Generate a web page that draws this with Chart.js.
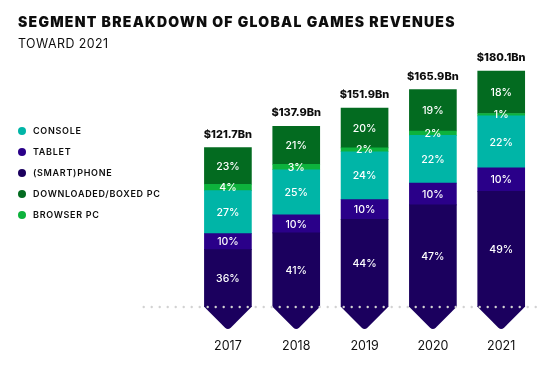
<!DOCTYPE html>
<html>
<head>
<meta charset="utf-8">
<script src="https://cdn.jsdelivr.net/npm/chart.js@4"></script>
<style>
  html, body { margin: 0; padding: 0; background: #fff; }
  #wrap { position: relative; width: 548px; height: 377px; overflow: hidden; font-family: Inter, sans-serif; color: #0d0d0d; }
  #chart { position: absolute; left: 0; top: 0; }
  .title { position: absolute; left: 18px; top: 14.5px; font-size: 14px; line-height: 1; font-weight: 900; letter-spacing: 1.25px; white-space: nowrap; }
  .subtitle { position: absolute; left: 18px; top: 37.5px; font-size: 12.4px; line-height: 1; font-weight: 400; letter-spacing: 0.45px; white-space: nowrap; }
  .legend-item { position: absolute; left: 18px; height: 12px; display: flex; align-items: center; font-size: 9px; font-weight: 600; letter-spacing: 0.7px; white-space: nowrap; }
  .legend-item .dot { width: 8px; height: 8px; border-radius: 50%; margin-right: 7px; }
</style>
</head>
<body>
<div id="wrap">
  <canvas id="chart" width="548" height="377"></canvas>
  <div class="title">SEGMENT BREAKDOWN OF GLOBAL GAMES REVENUES</div>
  <div class="subtitle">TOWARD 2021</div>
  <div id="legend"></div>
</div>
<script>
const years = ['2017', '2018', '2019', '2020', '2021'];
const totals = [121.7, 137.9, 151.9, 165.9, 180.1];

// share of each year's total, in %
const phonePct = [36, 41, 44, 47, 49];
const tabletPct = [10, 10, 10, 10, 10];
const consolePct = [27, 25, 24, 22, 22];
const browserPct = [4, 3, 2, 2, 1];
const boxedPct = [23, 21, 20, 19, 18];

const colors = {
  phone: '#1b005e',
  tablet: '#2a0089',
  console: '#00b5a7',
  browser: '#0db23c',
  boxed: '#036b20',
};

// stacked bottom to top
const segments = [
  { label: '(SMART)PHONE', pct: phonePct, color: colors.phone },
  { label: 'TABLET', pct: tabletPct, color: colors.tablet },
  { label: 'CONSOLE', pct: consolePct, color: colors.console },
  { label: 'BROWSER PC', pct: browserPct, color: colors.browser },
  { label: 'DOWNLOADED/BOXED PC', pct: boxedPct, color: colors.boxed },
];

const legendOrder = ['CONSOLE', 'TABLET', '(SMART)PHONE', 'DOWNLOADED/BOXED PC', 'BROWSER PC'];

const legendEl = document.getElementById('legend');
legendOrder.forEach((name, i) => {
  const seg = segments.find(s => s.label === name);
  const item = document.createElement('div');
  item.className = 'legend-item';
  item.style.top = (124.5 + i * 21) + 'px';
  item.innerHTML = '<span class="dot" style="background:' + seg.color + '"></span>' + name;
  legendEl.appendChild(item);
});

const decorations = {
  id: 'decorations',
  afterDatasetsDraw(chart) {
    const ctx = chart.ctx;
    const base = chart.scales.y.getPixelForValue(0);

    // arrow tips under the phone bars
    chart.getDatasetMeta(0).data.forEach(bar => {
      const half = bar.width / 2;
      ctx.save();
      ctx.fillStyle = colors.phone;
      ctx.beginPath();
      ctx.moveTo(bar.x - half, base - 1);
      ctx.lineTo(bar.x + half, base - 1);
      ctx.lineTo(bar.x + half, base);
      ctx.arcTo(bar.x, base + half, bar.x - half, base, 4);
      ctx.lineTo(bar.x - half, base);
      ctx.closePath();
      ctx.fill();
      ctx.restore();
    });

    // dotted baseline
    ctx.save();
    ctx.fillStyle = '#d2d2d2';
    for (let x = 143.7; x < 537; x += 8) {
      ctx.beginPath();
      ctx.arc(x, base, 1.2, 0, Math.PI * 2);
      ctx.fill();
    }
    ctx.restore();

    // percent labels
    ctx.save();
    ctx.fillStyle = '#ffffff';
    ctx.font = '500 10.5px Inter, sans-serif';
    ctx.textAlign = 'center';
    ctx.textBaseline = 'middle';
    segments.forEach((seg, i) => {
      chart.getDatasetMeta(i).data.forEach((bar, j) => {
        ctx.fillText(seg.pct[j] + '%', bar.x, (bar.y + bar.base) / 2 + 0.5);
      });
    });
    ctx.restore();

    // totals above bars
    ctx.save();
    ctx.fillStyle = '#0d0d0d';
    ctx.font = '800 11px Inter, sans-serif';
    ctx.textAlign = 'center';
    ctx.textBaseline = 'alphabetic';
    chart.getDatasetMeta(segments.length - 1).data.forEach((bar, j) => {
      ctx.fillText('$' + totals[j] + 'Bn', bar.x, bar.y - 10);
    });
    ctx.restore();
  },
};

new Chart(document.getElementById('chart'), {
  type: 'bar',
  data: {
    labels: years,
    datasets: segments.map(seg => ({
      label: seg.label,
      data: seg.pct.map((p, j) => (totals[j] * p) / 100),
      backgroundColor: seg.color,
      borderWidth: 0,
      barThickness: 47,
    })),
  },
  options: {
    responsive: false,
    animation: false,
    devicePixelRatio: 1,
    layout: {
      padding: { left: 193.75, right: 6.75, top: 45, bottom: 0 },
    },
    plugins: {
      legend: { display: false },
      tooltip: { enabled: false },
    },
    scales: {
      x: {
        stacked: true,
        grid: { display: false, drawTicks: false },
        border: { display: false },
        ticks: {
          color: '#111',
          font: { family: 'Inter, sans-serif', size: 12.5, weight: '400' },
          padding: 32,
        },
        afterFit: scale => {
          scale.height = 70;
        },
      },
      y: {
        stacked: true,
        display: false,
        min: 0,
        max: 200,
      },
    },
  },
  plugins: [decorations],
});
</script>
</body>
</html>
